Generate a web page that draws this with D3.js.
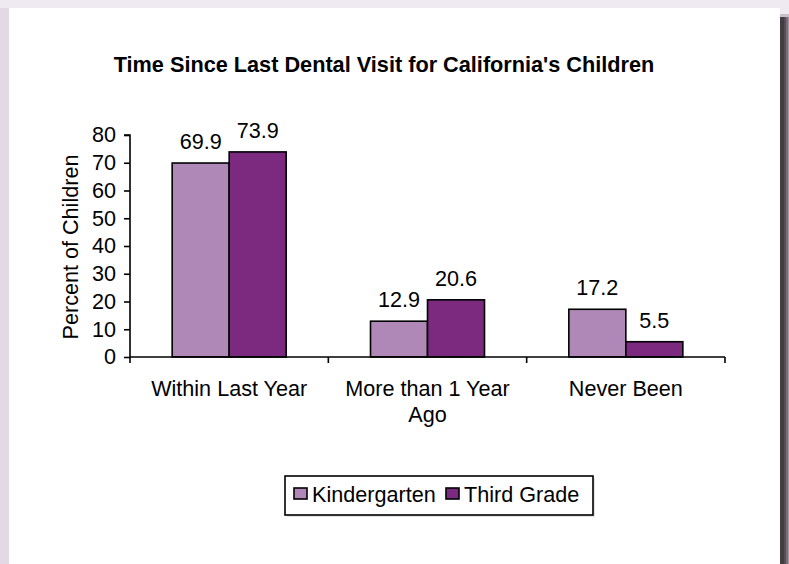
<!DOCTYPE html>
<html><head><meta charset="utf-8">
<script src="https://cdn.jsdelivr.net/npm/d3@7"></script>
<style>html,body{margin:0;padding:0;overflow:hidden;background:#eee7ef}svg{display:block}</style>
</head><body>
<script>
const categories = [["Within Last Year"], ["More than 1 Year", "Ago"], ["Never Been"]];
const seriesNames = ["Kindergarten", "Third Grade"];
const kindergarten = [69.9, 12.9, 17.2];
const thirdGrade = [73.9, 20.6, 5.5];
const yTicks = [0, 10, 20, 30, 40, 50, 60, 70, 80];
const title = "Time Since Last Dental Visit for California's Children";
const yTitle = "Percent of Children";
const colors = ["#b088b7", "#7b2a80"];

const W = 789, H = 564;
const FONT = "Arial, 'Liberation Sans', sans-serif";
const FS = 21.6;
const svg = d3.select("body").append("svg").attr("width", W).attr("height", H)
  .style("font-family", FONT);

// backdrop
svg.append("rect").attr("x", 0).attr("y", 0).attr("width", W).attr("height", H).attr("fill", "#efe9f1");
svg.append("rect").attr("x", 0).attr("y", 8).attr("width", 9).attr("height", H).attr("fill", "#e4d8e6");
svg.append("rect").attr("x", 779).attr("y", 14).attr("width", 10).attr("height", H).attr("fill", "#c9bfc8");
svg.append("rect").attr("x", 779).attr("y", 17).attr("width", 10).attr("height", H).attr("fill", "#433d42");
svg.append("rect").attr("x", 784).attr("y", 17).attr("width", 5).attr("height", H).attr("fill", "#554e54");
svg.append("rect").attr("x", 786).attr("y", 17).attr("width", 3).attr("height", H).attr("fill", "#7a6f79");
svg.append("rect").attr("x", 788).attr("y", 17).attr("width", 1).attr("height", H).attr("fill", "#a494a3");
svg.append("rect").attr("x", 9).attr("y", 8).attr("width", 771).attr("height", H).attr("fill", "#ffffff");

const x0 = 130, x1 = 725, yTop = 135, yBot = 357;
const x = d3.scaleBand().domain(d3.range(categories.length)).range([x0, x1]);
const y = d3.scaleLinear().domain([0, 80]).range([yBot, yTop]);
const barW = 57;

svg.append("text").attr("x", 384).attr("y", 72).attr("text-anchor", "middle")
  .attr("font-weight", "bold").attr("font-size", 21.7).text(title);

// bars
const data = [kindergarten, thirdGrade];
data.forEach((vals, s) => {
  svg.append("g").selectAll("rect").data(vals).join("rect")
    .attr("x", (d, i) => x(i) + x.bandwidth() / 2 - barW + s * barW)
    .attr("y", d => y(d)).attr("width", barW).attr("height", d => yBot - y(d))
    .attr("fill", colors[s]).attr("stroke", "#000").attr("stroke-width", 1.6);
  svg.append("g").selectAll("text").data(vals).join("text")
    .attr("x", (d, i) => x(i) + x.bandwidth() / 2 - barW / 2 + s * barW)
    .attr("y", d => y(d) - 14).attr("text-anchor", "middle").attr("font-size", FS)
    .text(d => d.toFixed(1));
});

// y axis
const ya = svg.append("g").attr("transform", `translate(${x0},0)`)
  .call(d3.axisLeft(y).tickValues(yTicks).tickSize(6).tickPadding(8).tickFormat(d3.format("d")));
ya.select(".domain").attr("stroke", "#000").attr("stroke-width", 1.6).attr("d", `M-6,${yTop}H0V${yBot}`);
ya.selectAll(".tick line").attr("stroke-width", 1.6);
ya.selectAll("text").attr("font-size", FS).attr("font-family", FONT).attr("fill", "#000");

// x axis
const xa = svg.append("g").attr("transform", `translate(0,${yBot})`);
xa.append("line").attr("x1", x0).attr("x2", x1).attr("y1", 0).attr("y2", 0).attr("stroke", "#000").attr("stroke-width", 1.6);
const bounds = d3.range(categories.length).map(i => x(i)).concat([x1]);
xa.selectAll("line.t").data(bounds).join("line").attr("class", "t")
  .attr("x1", d => d).attr("x2", d => d).attr("y1", 0).attr("y2", 6).attr("stroke", "#000").attr("stroke-width", 1.6);
categories.forEach((lines, i) => {
  const t = xa.append("text").attr("text-anchor", "middle").attr("font-size", FS)
    .attr("transform", `translate(${x(i) + x.bandwidth() / 2},39)`);
  lines.forEach((l, j) => t.append("tspan").attr("x", 0).attr("dy", j === 0 ? 0 : 26).text(l));
});

svg.append("text").attr("transform", "translate(78,247) rotate(-90)").attr("text-anchor", "middle")
  .attr("font-size", FS).text(yTitle);

// legend
const leg = svg.append("g");
leg.append("rect").attr("x", 287).attr("y", 478).attr("width", 308).attr("height", 39).attr("fill", "#c8c8c8").attr("opacity", 0.5);
leg.append("rect").attr("x", 285).attr("y", 476).attr("width", 308).attr("height", 39).attr("fill", "#fff").attr("stroke", "#000").attr("stroke-width", 1.6);
const legX = [294, 446];
seriesNames.forEach((n, i) => {
  leg.append("rect").attr("x", legX[i]).attr("y", 488).attr("width", 13).attr("height", 11)
    .attr("fill", colors[i]).attr("stroke", "#000").attr("stroke-width", 1.6);
  leg.append("text").attr("x", legX[i] + 18).attr("y", 502).attr("font-size", FS).text(n);
});
</script>
</body></html>
